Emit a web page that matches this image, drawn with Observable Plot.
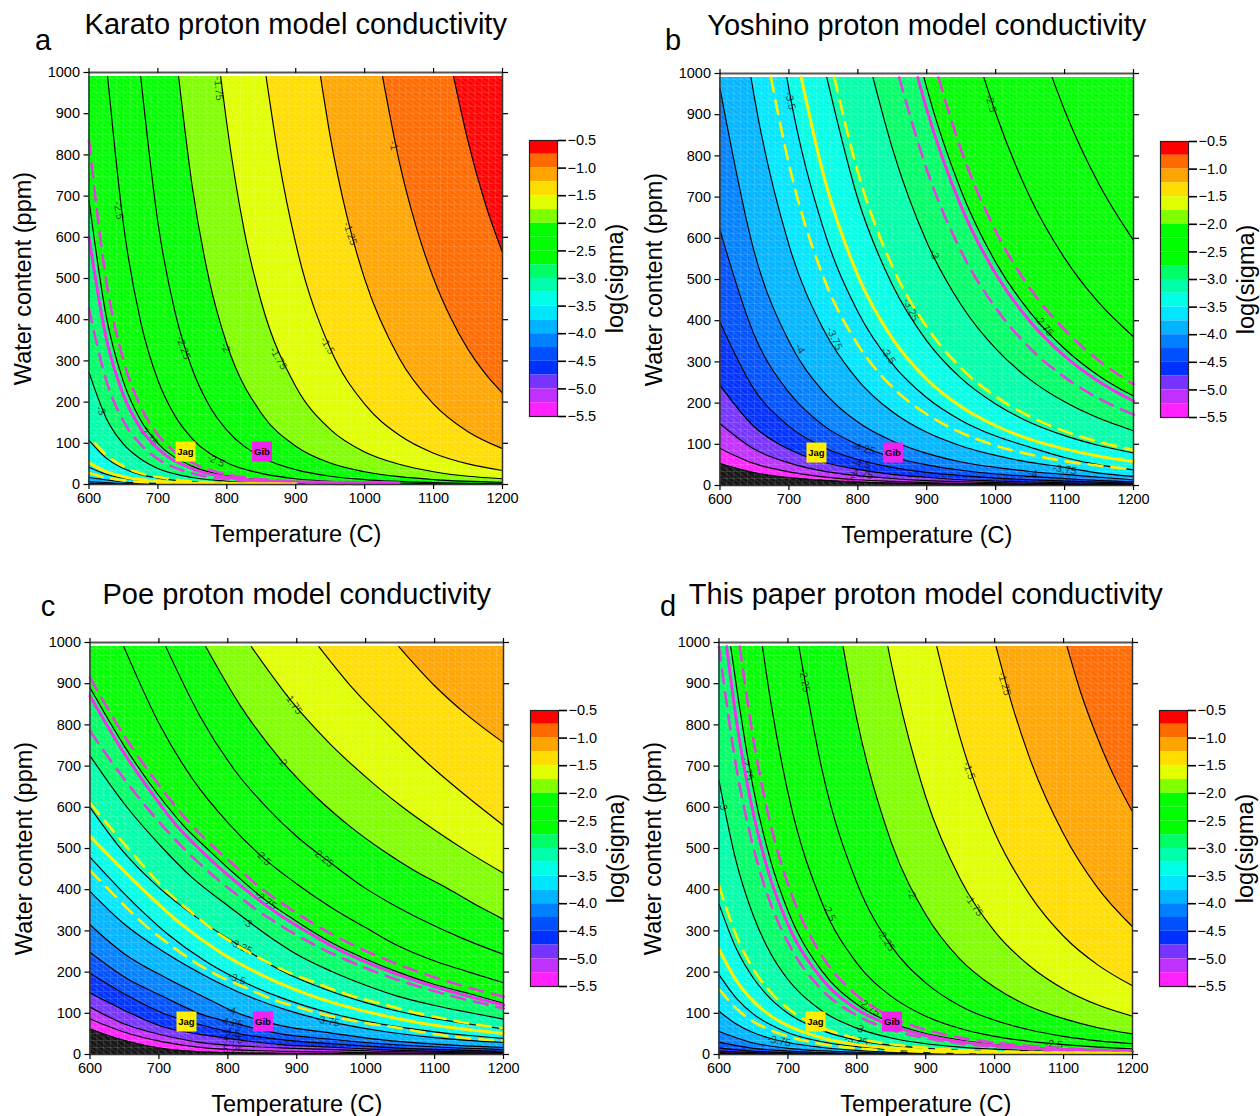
<!DOCTYPE html>
<html><head><meta charset="utf-8">
<script src="https://cdn.jsdelivr.net/npm/d3@7"></script>
<script src="https://cdn.jsdelivr.net/npm/@observablehq/plot@0.6"></script>
<style>
html,body{margin:0;padding:0;background:#fff}
#page{position:relative;width:1260px;height:1116px;overflow:hidden;font-family:"Liberation Sans",Arial,sans-serif}
#page svg{position:absolute;overflow:visible;background:transparent}
</style></head><body><div id="page"></div>
<script>
// legend
const legendLevels=[-0.75,-1,-1.25,-1.5,-1.75,-2,-2.25,-2.5,-2.75,-3,-3.25,-3.5,-3.75,-4,-4.25,-4.5,-4.75,-5,-5.25,-5.5];
const legendColors=["#ff0000","#ff6a00","#ffa500","#ffdd00","#e0ff00","#80ff00","#00ff00","#00ff00","#00ff00","#00ff66","#00ffaa","#00ffe6","#00e6ff","#00b4ff","#0080ff","#0050ff","#0030ff","#7733ff","#c030ff","#ff22ff"];
const legendTicks=[-0.5,-1,-1.5,-2,-2.5,-3,-3.5,-4,-4.5,-5,-5.5];
const xTicks=[600,700,800,900,1000,1100,1200];
const yTicks=[0,100,200,300,400,500,600,700,800,900,1000];

// Panel a: contour curves [level, [T, water]]
const karatoContours=[
[-4.5,[[600,1.5],[650,0.5]]],
[-4.25,[[600,3],[650,1],[700,0.4]]],
[-4,[[600,6.6],[650,2.4],[700,1],[800,0.2]]],
[-3.75,[[600,17],[650,6.1],[700,2.4],[800,0.5]]],
[-3.5,[[600,42],[625,25],[650,15.5],[700,6.2],[750,2.7],[800,1.2]]],
[-3.25,[[600,107],[625,64],[650,39],[675,24],[700,15.6],[750,6.7],[800,3.1],[900,0.9]]],
[-3,[[600,272],[625,161],[650,98],[675,62],[700,39],[750,17],[800,8],[900,2.2],[1000,0.8]]],
[-2.75,[[600,690],[625,408],[650,249],[675,156],[700,100],[750,44],[800,21],[850,10.5],[900,5.6],[1000,1.9]]],
[-2.5,[[627,990],[650,631],[675,395],[700,253],[725,166],[750,111],[800,53],[850,27],[900,14],[1000,4.8],[1200,0.9]]],
[-2.25,[[675,990],[700,636],[725,417],[750,279],[775,190],[800,132],[850,67],[900,36],[950,20],[1000,12],[1100,4.7],[1200,2.1]]],
[-2,[[730,990],[750,721],[775,492],[800,341],[850,173],[900,93],[950,52],[1000,31],[1050,19],[1100,12],[1200,5.4]]],
[-1.75,[[791,990],[800,875],[825,618],[850,443],[900,238],[950,134],[1000,79],[1050,49],[1100,31],[1150,20],[1200,14]]],
[-1.5,[[857,990],[875,793],[900,585],[950,330],[1000,195],[1050,120],[1100,76],[1150,50],[1200,34]]],
[-1.25,[[936,990],[950,845],[975,646],[1000,499],[1050,307],[1100,195],[1150,128],[1200,87]]],
[-1,[[1026,990],[1050,785],[1075,624],[1100,500],[1125,404],[1150,328],[1175,269],[1200,222]]],
[-0.75,[[1129,990],[1150,833],[1175,682],[1200,563]]]
];
const karatoGib=[[600,600],[625,355],[650,217],[675,136],[700,87],[750,38],[800,18],[850,9],[900,6],[1050,4]];
const karatoGibHigh=[[600,835],[625,494],[650,301],[675,189],[700,121],[750,53],[800,25],[850,13],[900,7],[1000,3]];
const karatoGibLow=[[600,427],[625,253],[650,154],[675,97],[700,62],[750,27],[800,13],[850,6.5],[900,3.4],[1000,1.1]];
const karatoJag=[[600,53],[625,31],[650,19],[700,7.7],[750,3.3],[800,2],[900,1.5]];
const karatoJagHigh=[[609,100],[625,72],[650,44],[675,27],[700,18],[750,7.7],[800,3.6],[900,1]];
const karatoJagLow=[[600,28],[625,17],[650,10],[700,4],[800,0.8]];
const karatoLabels=[[788,961,"-1.75",85],[643,665,"-2.5",80],[1042,823,"-1",75],[979,609,"-1.25",70],[946,337,"-1.5",60],[875,306,"-1.75",60],[798,332,"-2",65],[737,332,"-2.25",70],[617,180,"-3",60],[686,119,"-2.75",50],[784,58,"-2.5",25]];

// Panel b
const yoshinoContours=[
[-5.5,[[600,53],[650,31],[700,19],[750,12.5],[800,8.3],[850,5.9],[900,4.3],[1000,2.4],[1200,0.9]]],
[-5.25,[[600,90],[650,53],[700,33],[750,21],[800,14],[850,10],[900,7],[1000,4],[1200,1.5]]],
[-5,[[600,150],[650,88],[700,55],[750,35],[800,24],[850,17],[900,12],[950,9],[1000,6.8],[1100,4],[1200,2.5]]],
[-4.75,[[600,243],[650,142],[700,88],[750,57],[800,39],[850,27],[900,20],[950,14],[1000,11],[1050,8.5],[1100,6.7],[1200,4]]],
[-4.5,[[600,396],[650,232],[700,144],[750,93],[800,63],[850,44],[900,32],[950,24],[1000,18],[1050,14],[1100,11],[1150,8],[1200,6]]],
[-4.25,[[600,620],[650,364],[700,226],[750,146],[800,99],[850,69],[900,50],[950,37],[1000,28],[1050,22],[1100,17],[1150,12],[1200,9]]],
[-4,[[600,964],[650,565],[700,350],[750,228],[800,154],[850,108],[900,78],[950,57],[1000,44],[1050,34],[1100,27],[1150,20],[1200,14]]],
[-3.75,[[645,990],[650,941],[700,584],[750,379],[800,256],[850,179],[900,129],[950,96],[1000,73],[1050,56],[1100,44],[1150,30],[1200,22]]],
[-3.5,[[697,990],[700,962],[750,624],[800,422],[850,295],[900,213],[950,158],[1000,120],[1050,93],[1100,68],[1150,50],[1200,38]]],
[-3.25,[[755,990],[800,696],[850,487],[900,351],[950,260],[1000,198],[1050,153],[1100,121],[1150,97],[1200,79]]],
[-3,[[822,990],[850,819],[900,591],[950,438],[1000,332],[1050,257],[1100,203],[1150,163],[1200,133]]],
[-2.75,[[896,990],[900,965],[950,715],[1000,542],[1050,420],[1100,332],[1150,266],[1200,217]]],
[-2.5,[[983,990],[1000,904],[1050,699],[1100,552],[1150,443],[1200,361]]],
[-2.25,[[1082,990],[1100,911],[1150,731],[1200,595]]]
];
const yoshinoGib=[[887,990],[900,913],[950,677],[1000,514],[1050,398],[1100,314],[1150,252],[1200,205]];
const yoshinoGibHigh=[[917,990],[950,814],[1000,618],[1050,478],[1100,378],[1150,303],[1200,246]];
const yoshinoGibLow=[[860,990],[900,767],[950,568],[1000,431],[1050,333],[1100,263],[1150,211],[1200,172]];
const yoshinoJag=[[718,990],[750,755],[800,510],[850,357],[900,258],[950,191],[1000,145],[1050,112],[1100,89],[1150,71],[1200,58]];
const yoshinoJagHigh=[[766,990],[800,761],[850,532],[900,385],[950,285],[1000,216],[1050,167],[1100,132],[1150,106],[1200,86]];
const yoshinoJagLow=[[674,990],[700,780],[750,506],[800,342],[850,239],[900,173],[950,128],[1000,97],[1050,75],[1100,59],[1150,48],[1200,39]];
const yoshinoLabels=[[993,927,"-2.5",75],[702,934,"-3.5",78],[911,561,"-3",70],[877,427,"-3.25",65],[766,357,"-3.75",65],[716,332,"-4",60],[844,315,"-3.5",55],[1070,388,"-2.75",50],[808,90,"-4.25",15],[805,53,"-4.5",12],[805,29,"-4.75",10],[790,12,"-5",5],[1100,39,"-3.75",8],[1054,29,"-4",8]];

// Panel c
const poeContours=[
[-5.5,[[600,62],[650,34],[708,14],[756,7],[805,4],[877,3],[1022,1.5],[1200,0.5]]],
[-5.25,[[600,86],[650,54],[708,30],[756,18],[805,12],[877,8],[950,6],[1022,4],[1200,1.5]]],
[-5,[[600,115],[650,74],[708,46],[756,30],[805,22],[877,16],[950,12],[1022,8],[1200,3]]],
[-4.75,[[600,149],[650,107],[708,66],[756,50],[805,38],[877,24],[950,18],[1022,12],[1200,5]]],
[-4.5,[[600,197],[650,147],[708,99],[756,74],[805,54],[877,36],[950,26],[1022,18],[1200,8]]],
[-4.25,[[600,248],[650,188],[708,139],[766,95],[805,78],[877,50],[950,37],[1022,26],[1200,12]]],
[-4,[[600,315],[650,244],[708,188],[766,139],[805,107],[877,70],[950,52],[1022,36],[1200,17]]],
[-3.75,[[600,396],[650,316],[708,248],[766,192],[829,142],[887,107],[945,81],[1022,57],[1100,41],[1200,29]]],
[-3.5,[[600,479],[650,390],[713,292],[766,228],[814,183],[877,138],[950,100],[1047,67],[1100,55],[1150,46],[1200,39]]],
[-3.25,[[600,600],[647,495],[698,408],[761,325],[819,262],[877,204],[950,153],[1000,126],[1047,105],[1100,87],[1150,74],[1200,62]]],
[-3,[[600,725],[650,608],[706,500],[747,431],[805,355],[862,284],[901,242],[950,202],[1000,168],[1047,141],[1100,119],[1150,102],[1200,86]]],
[-2.75,[[600,890],[650,748],[700,628],[735,557],[773,495],[814,432],[855,374],[900,323],[950,272],[1000,232],[1047,200],[1100,170],[1150,148],[1200,124]]],
[-2.5,[[649,990],[700,804],[750,666],[800,563],[851,478],[900,414],[950,357],[1000,308],[1047,264],[1100,227],[1150,200],[1200,174]]],
[-2.25,[[710,990],[760,820],[810,690],[860,593],[900,529],[950,464],[998,405],[1047,357],[1095,316],[1143,280],[1200,243]]],
[-2,[[768,990],[820,842],[879,711],[930,622],[980,550],[1025,495],[1071,446],[1119,403],[1168,356],[1200,328]]],
[-1.75,[[834,990],[895,852],[950,751],[1000,674],[1050,605],[1100,545],[1150,490],[1200,440]]],
[-1.5,[[932,990],[980,891],[1030,804],[1090,707],[1150,622],[1200,556]]],
[-1.25,[[1048,990],[1100,895],[1150,820],[1200,757]]]
];
const poeGib=[[600,870],[645,743],[688,638],[725,557],[761,495],[814,416],[872,342],[926,287],[950,264],[998,226],[1047,194],[1095,167],[1143,144],[1200,120]];
const poeGibHigh=[[600,915],[650,773],[700,654],[745,561],[785,495],[817,448],[848,404],[882,363],[916,326],[950,293],[984,264],[1023,235],[1059,211],[1095,190],[1136,169],[1175,151],[1200,141]];
const poeGibLow=[[600,785],[650,668],[700,565],[749,479],[778,435],[810,392],[841,352],[875,315],[909,281],[950,246],[984,221],[1018,198],[1056,176],[1095,156],[1134,138],[1172,123],[1200,112]];
const poeJag=[[600,530],[674,405],[732,317],[790,247],[848,194],[916,146],[950,127],[1047,87],[1100,71],[1150,60],[1200,51]];
const poeJagHigh=[[600,610],[660,491],[713,394],[747,345],[780,301],[810,268],[848,232],[887,200],[926,175],[964,151],[1000,133],[1032,119],[1071,102],[1114,87],[1151,75],[1200,64]];
const poeJagLow=[[600,447],[631,394],[660,345],[689,301],[722,259],[754,222],[790,188],[826,162],[863,135],[901,115],[950,93],[994,78],[1042,66],[1076,56],[1114,46],[1158,38],[1200,34]];
const poeLabels=[[895,852,"-1.75",55],[879,711,"-2",50],[851,478,"-2.5",45],[938,478,"-2.25",40],[855,374,"-2.75",35],[828,320,"-3",35],[819,262,"-3.25",25],[813,184,"-3.5",20],[805,107,"-4",15],[805,78,"-4.25",12],[805,54,"-4.5",10],[805,38,"-4.75",8],[805,12,"-5.25",5],[945,81,"-3.75",10]];

// Panel d
const paperContours=[
[-5.25,[[600,2.5],[650,1.2],[700,0.6]]],
[-5,[[600,4.7],[650,2.3],[700,1.3],[800,0.4]]],
[-4.75,[[600,8.8],[650,4.4],[700,2.4],[800,0.8]]],
[-4.5,[[600,16],[650,8],[700,4.4],[800,1.5],[900,0.6]]],
[-4.25,[[600,30],[650,15],[700,8.5],[750,4.8],[800,2.9],[900,1.2]]],
[-4,[[600,56],[650,28],[700,15],[750,9],[800,5.4],[900,2.3],[1200,0.3]]],
[-3.75,[[600,105],[625,74],[650,53],[675,39],[700,29],[750,17],[800,10],[900,4.3],[1200,0.6]]],
[-3.5,[[600,194],[625,137],[650,98],[675,72],[700,53],[750,31],[800,19],[850,12],[900,8],[1000,3.7],[1200,1.1]]],
[-3.25,[[600,365],[625,257],[650,185],[675,135],[700,100],[750,58],[800,35],[850,22],[900,15],[1000,7],[1200,2]]],
[-3,[[600,665],[625,468],[650,336],[675,245],[700,182],[750,105],[800,64],[850,40],[900,26],[950,18],[1000,13],[1100,6.9],[1200,4]]],
[-2.75,[[617,990],[625,897],[650,644],[675,470],[700,349],[750,201],[800,122],[850,77],[900,51],[950,35],[1000,24],[1100,13],[1200,7.5]]],
[-2.5,[[663,990],[675,857],[700,636],[750,366],[800,222],[850,141],[900,93],[950,63],[1000,44],[1050,32],[1100,24],[1150,18],[1200,14]]],
[-2.25,[[716,990],[750,687],[800,417],[850,263],[900,174],[950,118],[1000,83],[1050,60],[1100,44],[1150,33],[1200,26]]],
[-2,[[780,990],[800,814],[850,515],[900,340],[950,231],[1000,163],[1050,117],[1100,87],[1150,65],[1200,50]]],
[-1.75,[[845,990],[850,949],[900,625],[950,426],[1000,299],[1050,216],[1100,159],[1150,120],[1200,93]]],
[-1.5,[[916,990],[950,768],[1000,539],[1050,390],[1100,287],[1150,217],[1200,167]]],
[-1.25,[[1002,990],[1025,850],[1050,723],[1100,535],[1150,403],[1200,310]]],
[-1,[[1105,990],[1125,878],[1150,765],[1175,669],[1200,589]]]
];
const paperGib=[[611,990],[625,814],[650,583],[675,425],[700,316],[750,182],[800,110],[850,70],[900,46],[950,31],[1000,22],[1050,16],[1100,12],[1200,7]];
const paperGibHigh=[[630,990],[650,764],[675,557],[700,414],[750,238],[800,144],[850,91],[900,60],[950,41],[1000,29],[1100,15],[1200,9]];
const paperGibLow=[[600,990],[625,698],[650,502],[675,366],[700,272],[750,156],[800,95],[850,60],[900,40],[950,27],[1000,19],[1100,10],[1200,6]];
const paperJag=[[600,256],[625,180],[650,129],[675,94],[700,70],[750,40],[800,24],[850,15.5],[900,10],[950,7],[1000,5],[1200,2.5]];
const paperJagHigh=[[600,410],[625,289],[650,207],[675,151],[700,112],[750,65],[800,39],[850,25],[900,16],[950,11],[1000,8],[1200,3]];
const paperJagLow=[[600,159],[625,112],[650,80],[675,59],[700,44],[750,25],[800,15],[850,9.7],[900,6.5],[1000,3.1],[1200,1]];
const paperLabels=[[724,908,"-2.25",80],[606,604,"-3",80],[641,694,"-2.75",75],[1014,900,"-1.25",75],[963,689,"-1.5",70],[760,345,"-2.5",65],[879,390,"-2",60],[970,362,"-1.75",55],[842,277,"-2.25",55],[818,115,"-2.75",35],[803,64,"-3",25],[799,34,"-3.25",10],[687,33,"-3.75",12],[1086,25,"-2.5",5]];

const siteT=[[740,"Jag","#ffee00"],[851,"Gib","#f022f0"]];
const colorOf=new Map(legendLevels.map((l,i)=>[l,legendColors[i]]));
const page=document.getElementById("page");
const YEL="#ffee00",MAG="#ee33e8",DMAG="#e040dc";

function panel({left,top,title,letter,ldx,ldy,contours,gib,gibHi,gibLo,jag,jagHi,jagLo,labels}){
  const ordered=[...contours].sort((a,b)=>a[0]-b[0]);
  const tx=d=>d[0],ty=d=>d[1];
  const areas=ordered.map(([lv,pts])=>{
    const p=pts[pts.length-1][0]<1200?[...pts,[1200,0]]:pts;
    return Plot.areaY(p,{x:tx,y1:ty,y2:()=>990,fill:colorOf.get(lv),curve:"monotone-x"});
  });
  const lines=ordered.map(([lv,pts])=>Plot.line(pts,{x:tx,y:ty,stroke:"#000",strokeWidth:1.15,curve:"monotone-x"}));
  const kl=(pts,color,w,dash)=>Plot.line(pts,{x:tx,y:ty,stroke:color,strokeWidth:w,strokeDasharray:dash,curve:"monotone-x"});
  const svg=Plot.plot({
    width:560,height:560,marginLeft:88.5,marginRight:58,marginTop:72,marginBottom:76,
    style:{fontFamily:"'Liberation Sans',Arial,sans-serif",background:"transparent",color:"#000"},
    x:{domain:[600,1200],axis:null},y:{domain:[0,1000],axis:null},
    marks:[
      Plot.rect([0],{x1:()=>600,x2:()=>1200,y1:()=>0,y2:()=>990,fill:"#141414"}),
      ...areas,
      Plot.rect([0],{x1:()=>600,x2:()=>1200,y1:()=>0,y2:()=>990,fill:"url(#hatch)"}),
      Plot.ruleX(d3.range(600,1201,10),{y1:()=>0,y2:()=>990,stroke:"#fff",strokeOpacity:0.13,strokeWidth:1}),
      Plot.ruleY(d3.range(0,990,17),{x1:()=>600,x2:()=>1200,stroke:"#fff",strokeOpacity:0.13,strokeWidth:1}),
      ...lines,
      Plot.text(labels,{x:d=>d[0],y:d=>d[1],text:d=>d[2],rotate:d=>d[3],fontSize:10.5,fill:"#000",fillOpacity:0.7}),
      kl(gib,MAG,3),kl(gibHi,DMAG,2.6,"14,9"),kl(gibLo,DMAG,2.6,"14,9"),
      kl(jag,YEL,3),kl(jagHi,YEL,2.6,"14,9"),kl(jagLo,YEL,2.6,"14,9"),
      Plot.dot(siteT,{x:d=>d[0],y:()=>80,symbol:"square",r:11.3,fill:d=>d[2]}),
      Plot.text(siteT,{x:d=>d[0],y:()=>80,text:d=>d[1],fontSize:9.5,fontWeight:"bold",fill:"#000"}),
      Plot.ruleY([1000],{stroke:"#555",strokeWidth:2}),
      Plot.ruleY([0],{stroke:"#333",strokeWidth:1.5}),
      Plot.ruleX([600],{stroke:"#333",strokeWidth:1.5}),
      Plot.ruleX([1200],{stroke:"#333",strokeWidth:1.5}),
      Plot.axisX({anchor:"bottom",ticks:xTicks,tickSize:5,tickPadding:3,fontSize:14.5,label:null,tickFormat:d=>String(d),strokeWidth:1.2}),
      Plot.axisX({anchor:"top",ticks:xTicks,tickSize:5,tickFormat:()=>"",label:null,strokeWidth:1.2}),
      Plot.axisY({anchor:"left",ticks:yTicks,tickSize:5,tickPadding:4,fontSize:14.5,label:null,tickFormat:d=>String(d),strokeWidth:1.2}),
      Plot.axisY({anchor:"right",ticks:yTicks,tickSize:5,tickFormat:()=>"",label:null,strokeWidth:1.2}),
      Plot.text(["Temperature (C)"],{frameAnchor:"bottom",dy:57,fontSize:23.5,fill:"#000"}),
      Plot.text(["Water content (ppm)"],{frameAnchor:"left",rotate:-90,textAnchor:"middle",dx:-66,fontSize:23.5,fill:"#000"}),
      Plot.text([title],{frameAnchor:"top",dy:-59,fontSize:29,fill:"#000"}),
      Plot.text([letter],{frameAnchor:"top-left",dx:ldx,dy:ldy,textAnchor:"middle",fontSize:29,fill:"#000"})
    ]
  });
  svg.style.left=left+"px";svg.style.top=top+"px";
  const ns="http://www.w3.org/2000/svg";
  const defs=document.createElementNS(ns,"defs");
  defs.innerHTML='<pattern id="hatch" width="4" height="4" patternUnits="userSpaceOnUse" patternTransform="rotate(35)"><rect width="4" height="1.2" fill="#fff" fill-opacity="0.12"/></pattern>';
  svg.insertBefore(defs,svg.firstChild);
  page.appendChild(svg);

  const bands=legendLevels.map((lv,i)=>({lo:lv,hi:lv+0.25,c:legendColors[i]}));
  const leg=Plot.plot({
    width:660,height:430,marginLeft:529,marginRight:103,marginTop:140,marginBottom:14,
    style:{fontFamily:"'Liberation Sans',Arial,sans-serif",background:"transparent",color:"#000"},
    x:{domain:[0,1],axis:null},y:{domain:[-5.5,-0.5],axis:null},
    marks:[
      Plot.rect(bands,{x1:()=>0,x2:()=>1,y1:"lo",y2:"hi",fill:"c"}),
      Plot.frame({stroke:"#222",strokeWidth:1.2}),
      Plot.axisY({anchor:"right",ticks:legendTicks,tickSize:8,tickPadding:2,fontSize:14.5,label:null,tickFormat:d3.format(".1f"),strokeWidth:1.6}),
      Plot.text(["log(sigma)"],{frameAnchor:"right",rotate:-90,textAnchor:"middle",dx:58,fontSize:23.5,fill:"#000"})
    ]
  });
  leg.style.left=left+"px";leg.style.top=top+"px";
  page.appendChild(leg);
}
panel({left:0,top:0,title:"Karato proton model conductivity",letter:"a",ldx:-46,ldy:-43,contours:karatoContours,gib:karatoGib,gibHi:karatoGibHigh,gibLo:karatoGibLow,jag:karatoJag,jagHi:karatoJagHigh,jagLo:karatoJagLow,labels:karatoLabels});
panel({left:630.5,top:1,title:"Yoshino proton model conductivity",letter:"b",ldx:-47,ldy:-44,contours:yoshinoContours,gib:yoshinoGib,gibHi:yoshinoGibHigh,gibLo:yoshinoGibLow,jag:yoshinoJag,jagHi:yoshinoJagHigh,jagLo:yoshinoJagLow,labels:yoshinoLabels});
panel({left:0.5,top:570,title:"Poe proton model conductivity",letter:"c",ldx:-42,ldy:-47,contours:poeContours,gib:poeGib,gibHi:poeGibHigh,gibLo:poeGibLow,jag:poeJag,jagHi:poeJagHigh,jagLo:poeJagLow,labels:poeLabels});
panel({left:629.5,top:570,title:"This paper proton model conductivity",letter:"d",ldx:-51,ldy:-47,contours:paperContours,gib:paperGib,gibHi:paperGibHigh,gibLo:paperGibLow,jag:paperJag,jagHi:paperJagHigh,jagLo:paperJagLow,labels:paperLabels});
</script></body></html>
